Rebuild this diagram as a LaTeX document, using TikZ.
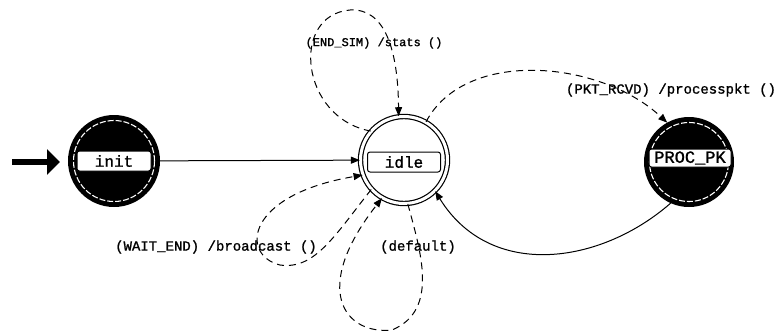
\documentclass[tikz,border=0pt]{standalone}
\usepackage{fontspec}
\setmonofont{Liberation Mono}
\newfontfamily\lblfont{Liberation Mono}[FakeBold=1.2]
\usetikzlibrary{arrows.meta}
\begin{document}
\begin{tikzpicture}[x=1pt,y=-1pt,
  every node/.style={font=\lblfont},
  blackstate/.style={circle, fill=black, minimum size=92pt, inner sep=0pt, outer sep=0pt},
  whitestate/.style={circle, draw=black, line width=1.2pt, double=white, double distance=3pt, minimum size=87pt, inner sep=0pt},
  ringline/.style={white, line width=1.1pt, dash pattern=on 6pt off 2pt},
  statebox/.style={draw=black, fill=white, rounded corners=2.5pt, line width=1pt, minimum height=20pt, inner sep=0pt},
  lbl/.style={font=\lblfont\fontsize{14}{14}\selectfont, inner sep=0pt},
  trans/.style={line width=1pt, -{Triangle[length=9pt,width=7pt]}},
  dtrans/.style={trans, dash pattern=on 7pt off 5pt},
  startarrow/.style={line width=6pt, -{Triangle[length=13pt,width=25pt]}, shorten >=8pt}
]
\useasboundingbox (0,0) rectangle (781,333);

% states
\node[blackstate] (init) at (114,161) {};
\draw[ringline] (init.center) circle[radius=40.5pt];
\node[statebox, minimum width=74pt, font=\lblfont\fontsize{16}{16}\selectfont] (initlbl) at (init.center) {init};

\node[whitestate] (idle) at (404,160) {};
\node[statebox, minimum width=73pt, font=\lblfont\fontsize{16}{16}\selectfont] (idlelbl) at (404,162) {idle};

\node[blackstate, minimum size=90pt] (proc) at (689,162) {};
\draw[ringline] (proc.center) circle[radius=39.5pt];
\node[statebox, minimum width=82pt, minimum height=18pt, font=\lblfont\fontsize{17}{17}\selectfont] (proclbl) at (690,158) {PROC\_PK};

% initial arrow
\coordinate (startpt) at (12,162);
\draw[startarrow] (startpt) -- (startpt -| init.west);

% transitions
\draw[trans] (init) -- (idle);
\draw[dtrans] (idle.60) .. controls (465,48) and (600,60) .. (proc.119);
\draw[trans] (proc.246) .. controls (600,265) and (490,280) .. (idle.-45);
\draw[dtrans] (idle.139) .. controls (300,118) and (290,15) .. (350,10) .. controls (385,8) and (398,50) .. (idle.97);
\draw[dtrans] (idle.222) .. controls (335,235) and (315,270) .. (280,265) .. controls (240,255) and (245,195) .. (idle.200);
\draw[dtrans] (idle.-85) .. controls (420,250) and (440,310) .. (392,330) .. controls (345,335) and (310,290) .. (idle.240);

% labels
\node[lbl, font=\lblfont\fontsize{12}{12}\selectfont] (lblstats) at (374,43) {(END\_SIM) /stats ()};
\node[lbl] (lblpkt) at (671,90) {(PKT\_RCVD) /processpkt ()};
\node[lbl] (lblwait) at (216,247) {(WAIT\_END) /broadcast ()};
\node[lbl] (lbldefault) at (418,247) {(default)};
\end{tikzpicture}
\end{document}
